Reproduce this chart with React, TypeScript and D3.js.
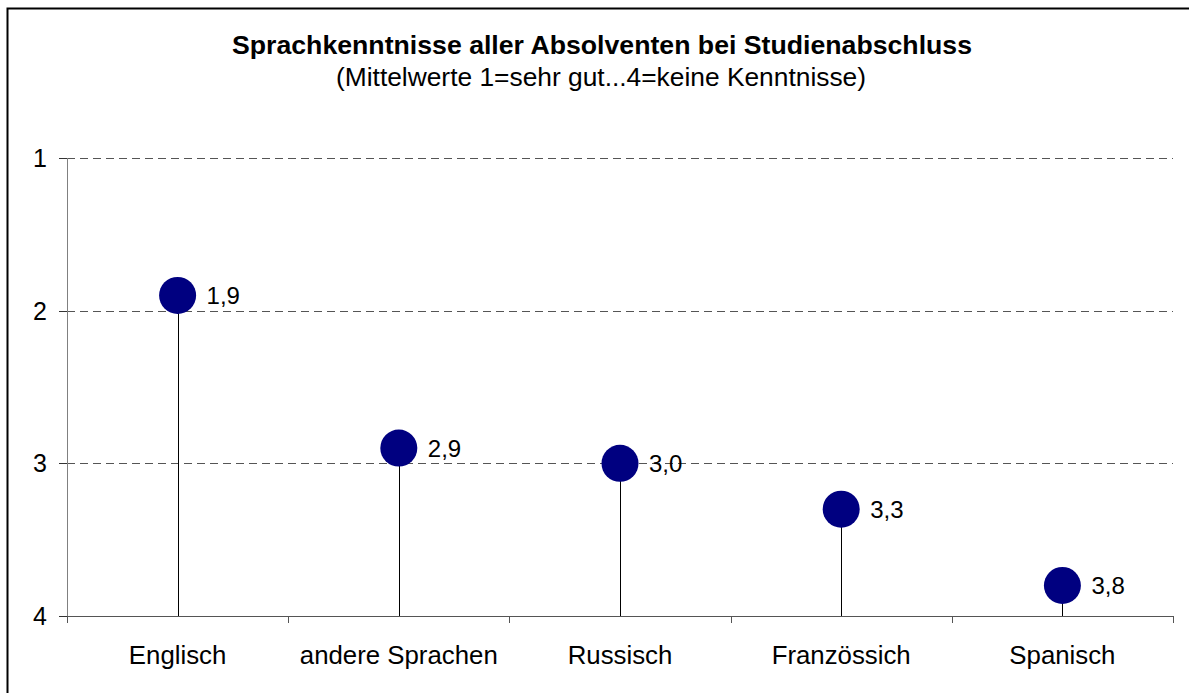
import React from "react";
import * as d3 from "d3";

const categories = ["Englisch", "andere Sprachen", "Russisch", "Französsich", "Spanisch"];
const values = [1.9, 2.9, 3.0, 3.3, 3.8];
const yTicks = [1, 2, 3, 4];
const title = "Sprachkenntnisse aller Absolventen bei Studienabschluss";
const subtitle = "(Mittelwerte 1=sehr gut...4=keine Kenntnisse)";

const W = 1189;
const H = 693;
const left = 67;
const right = 1173;
const top = 158;
const bottom = 616;

export default function App() {
  const x = d3.scaleBand<string>().domain(categories).range([left, right]);
  const y = d3.scaleLinear().domain([1, 4]).range([top, bottom]);
  const fmt = (v: number) => v.toFixed(1).replace(".", ",");
  const font = "'Liberation Sans', Arial, sans-serif";
  const boundaries = categories.map((c) => x(c) as number).concat([right]);

  return (
    <svg
      width={W}
      height={H}
      style={{ position: "absolute", left: 0, top: 0, background: "#fff" }}
      fontFamily={font}
    >
      <rect x={7.5} y={8.5} width={1300} height={800} fill="#fff" stroke="#000" strokeWidth={2} />
      <text x={602} y={54} textAnchor="middle" fontWeight="bold" fontSize={26.3} textLength={740} lengthAdjust="spacingAndGlyphs">
        {title}
      </text>
      <text x={601} y={86} textAnchor="middle" fontSize={26.3} textLength={530} lengthAdjust="spacingAndGlyphs">
        {subtitle}
      </text>
      {yTicks.filter((t) => t < 4).map((t) => (
        <line
          key={"g" + t}
          x1={left}
          x2={right}
          y1={Math.round(y(t)) + 0.5}
          y2={Math.round(y(t)) + 0.5}
          stroke="#555"
          strokeDasharray="8,5"
        />
      ))}
      <line x1={left + 0.5} x2={left + 0.5} y1={y(1)} y2={y(4)} stroke="#808080" />
      {yTicks.map((t) => (
        <g key={"t" + t}>
          <line x1={left - 8} x2={left} y1={Math.round(y(t)) + 0.5} y2={Math.round(y(t)) + 0.5} stroke="#333" />
          <text x={47} y={y(t)} dy="0.36em" textAnchor="end" fontSize={25}>
            {t}
          </text>
        </g>
      ))}
      <line x1={left} x2={right} y1={Math.round(y(4)) + 0.5} y2={Math.round(y(4)) + 0.5} stroke="#555" />
      {boundaries.map((b, i) => (
        <line key={"xt" + i} x1={Math.round(b) + 0.5} x2={Math.round(b) + 0.5} y1={y(4)} y2={y(4) + 7} stroke="#555" />
      ))}
      {categories.map((c, i) => {
        const cx = (x(c) as number) + x.bandwidth() / 2;
        const cy = y(values[i]);
        return (
          <g key={c}>
            <line x1={Math.round(cx) + 0.5} x2={Math.round(cx) + 0.5} y1={cy} y2={y(4)} stroke="#000" />
            <circle cx={cx} cy={cy} r={18.5} fill="#000080" />
            <text x={cx + 29} y={cy} dy="0.36em" fontSize={24}>
              {fmt(values[i])}
            </text>
            <text x={cx} y={664} textAnchor="middle" fontSize={25.8}>
              {c}
            </text>
          </g>
        );
      })}
    </svg>
  );
}
